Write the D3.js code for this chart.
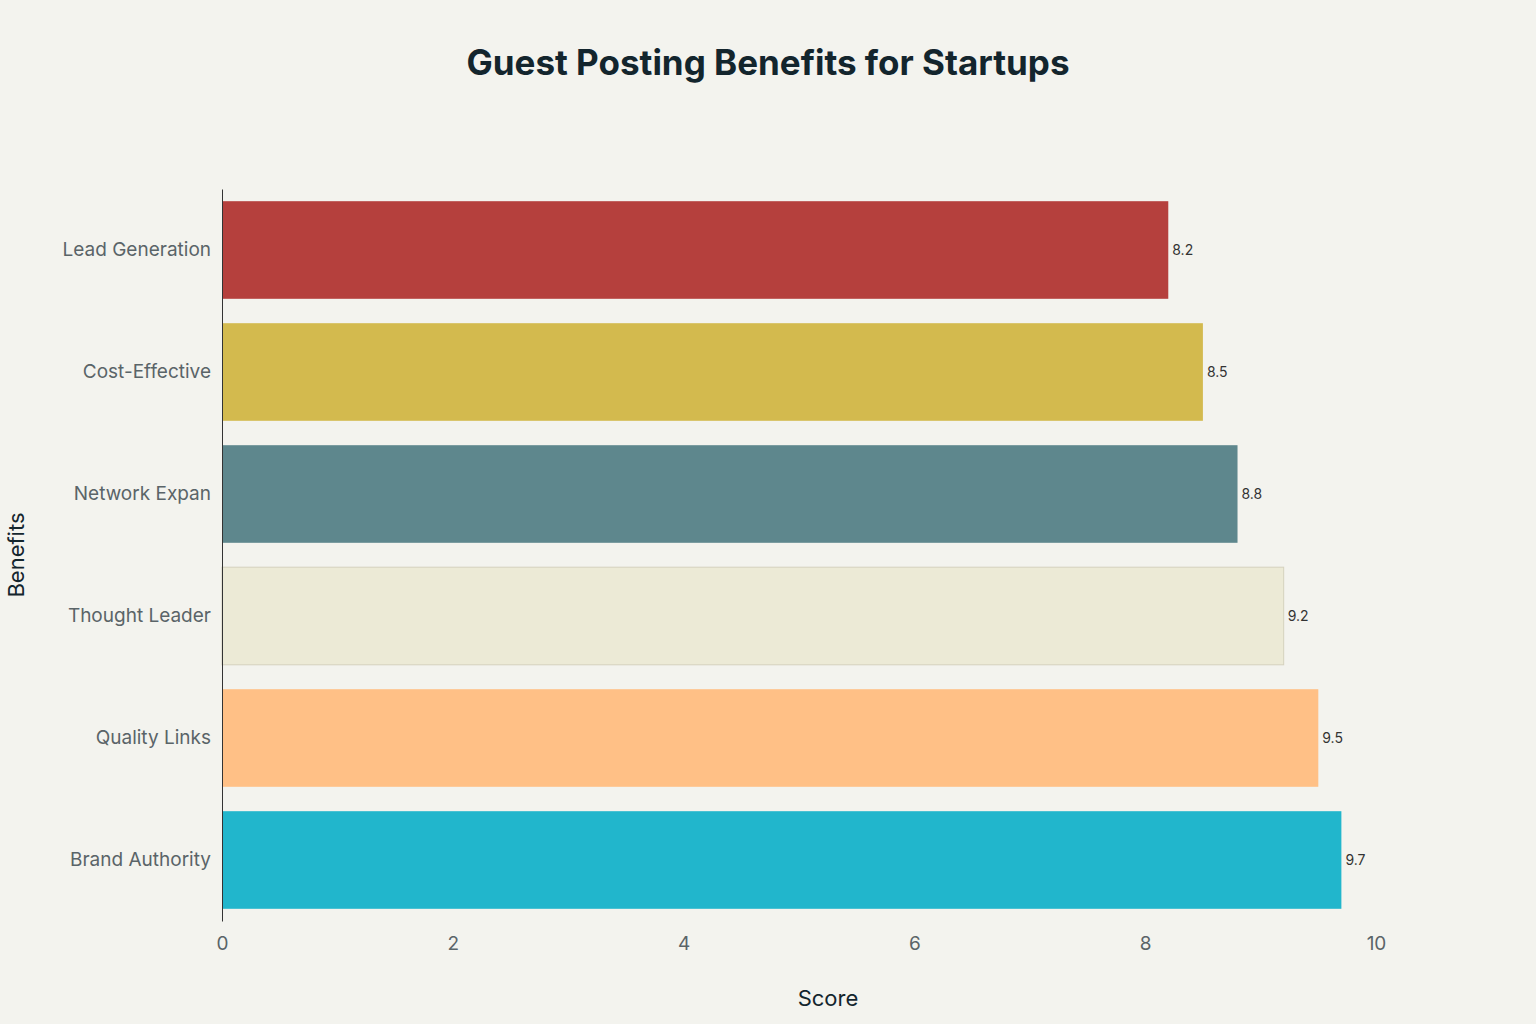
<!DOCTYPE html>
<html><head><meta charset="utf-8">
<script src="https://cdn.jsdelivr.net/npm/d3@7"></script>
<style>body{margin:0;background:#F3F3EE;font-family:Inter,"Open Sans",sans-serif}</style>
</head><body><svg id="c" width="1536" height="1024"></svg>
<script>
const categories = ["Lead Generation","Cost-Effective","Network Expan","Thought Leader","Quality Links","Brand Authority"];
const values = [8.2,8.5,8.8,9.2,9.5,9.7];
const colors = ["#B5403D","#D3BA4E","#5E878D","#ECEAD6","#FFC086","#21B6CC"];
const xTicks = [0,2,4,6,8,10];

const svg = d3.select("#c");
svg.append("rect").attr("width",1536).attr("height",1024).attr("fill","#F3F3EE");
const x = d3.scaleLinear().domain([0,10]).range([222,1376]);
const y = d3.scaleBand().domain(categories).range([189,921]).paddingInner(0.2).paddingOuter(0.1);

svg.append("text").attr("x",768).attr("y",75).attr("text-anchor","middle")
  .attr("font-size",35).attr("font-weight",700).attr("fill","#13252D").text("Guest Posting Benefits for Startups");

svg.selectAll("rect.bar").data(values).join("rect").attr("class","bar")
  .attr("x",x(0)).attr("y",(d,i)=>y(categories[i])).attr("width",d=>x(d)-x(0))
  .attr("height",y.bandwidth()).attr("fill",(d,i)=>colors[i])
  .attr("stroke",(d,i)=>i===3?"#D5D2BE":"none").attr("stroke-width",1);

svg.selectAll("text.val").data(values).join("text").attr("class","val")
  .attr("x",d=>x(d)+4).attr("y",(d,i)=>y(categories[i])+y.bandwidth()/2+5)
  .attr("font-size",14).attr("fill","#333").text(d=>d.toFixed(1));

const ya = svg.append("g").attr("transform","translate(222,0)").call(d3.axisLeft(y).tickSize(0).tickPadding(11));
ya.select(".domain").attr("stroke","#333");
ya.selectAll("text").attr("font-size",19).attr("fill","#5A6468").attr("font-family","Inter,sans-serif");

const xa = svg.append("g").attr("transform","translate(0,921)").call(d3.axisBottom(x).tickValues(xTicks).tickSize(0).tickPadding(16));
xa.select(".domain").remove();
xa.selectAll("text").attr("font-size",19).attr("fill","#5A6468").attr("font-family","Inter,sans-serif");

svg.append("text").attr("x",828).attr("y",1006).attr("text-anchor","middle").attr("font-size",22).attr("fill","#13252D").text("Score");
svg.append("text").attr("transform","translate(24,555) rotate(-90)").attr("text-anchor","middle").attr("font-size",22).attr("fill","#13252D").text("Benefits");
</script></body></html>
